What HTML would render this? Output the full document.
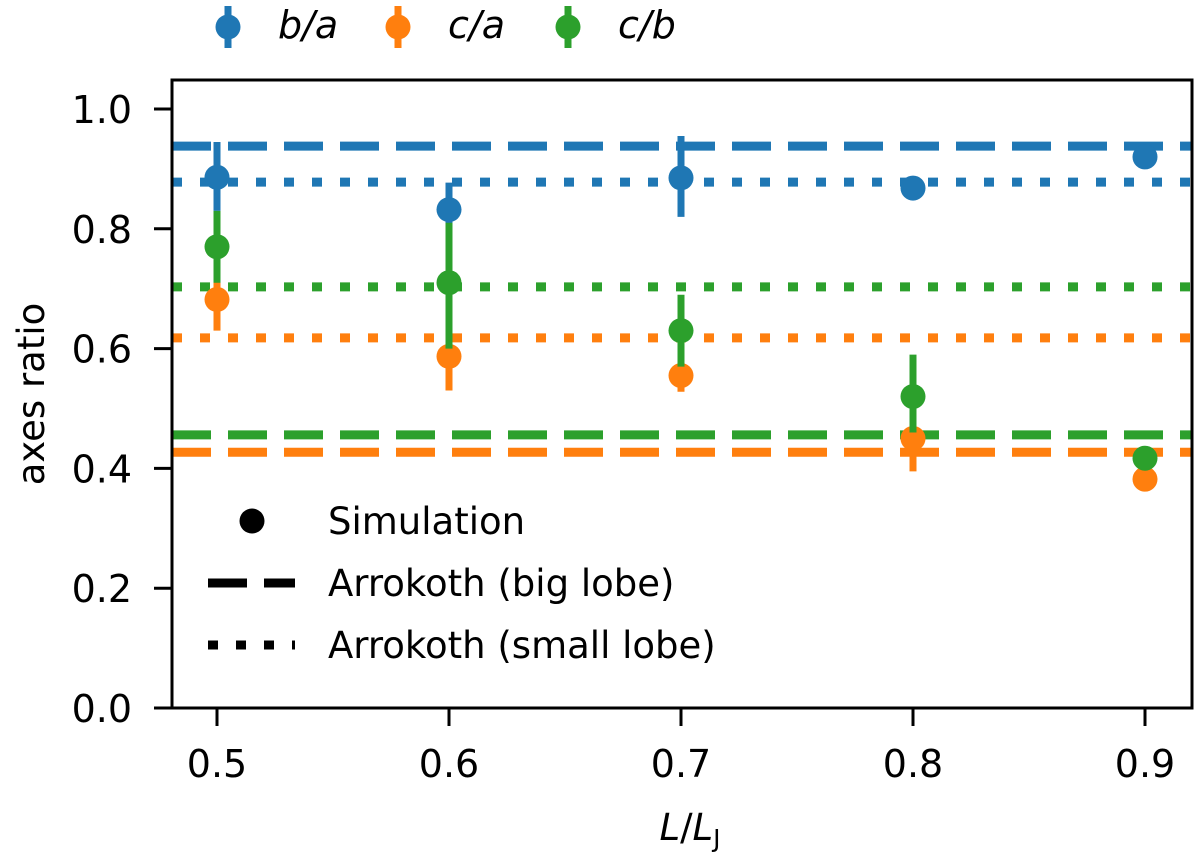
<!DOCTYPE html>
<html><head><meta charset="utf-8"><style>body{margin:0;background:#fff}svg{display:block;font-family:"DejaVu Sans","Liberation Sans",sans-serif}</style></head>
<body>
<svg id="chart" width="1200" height="855"></svg>
<script>
const xCats=[0.5,0.6,0.7,0.8,0.9];
const baVal=[0.886,0.832,0.885,0.868,0.920];
const baLo=[0.830,0.785,0.820,0.860,0.905];
const baHi=[0.945,0.877,0.955,0.876,0.935];
const caVal=[0.682,0.587,0.555,0.450,0.382];
const caLo=[0.630,0.530,0.528,0.395,0.375];
const caHi=[0.730,0.640,0.582,0.490,0.390];
const cbVal=[0.770,0.710,0.630,0.520,0.417];
const cbLo=[0.710,0.600,0.570,0.460,0.408];
const cbHi=[0.830,0.810,0.690,0.590,0.426];
const refBig=[0.938,0.427,0.456];
const refSmall=[0.878,0.618,0.703];
const yTicks=[0.0,0.2,0.4,0.6,0.8,1.0];
const xTicks=[0.5,0.6,0.7,0.8,0.9];
const colors=['#1f77b4','#ff7f0e','#2ca02c'];
const NS='http://www.w3.org/2000/svg';
const svg=document.getElementById('chart');
const L=172,R=1192,T=80,B=708;
const xs=v=>217+(v-0.5)*2320;
const ys=v=>708-v*599;
function mk(tag,at,txt){const e=document.createElementNS(NS,tag);for(const k in at)e.setAttribute(k,at[k]);if(txt!=null)e.textContent=txt;svg.appendChild(e);return e;}
[refBig,refSmall].forEach((arr,j)=>{arr.forEach((v,i)=>{
 const l=mk('line',{x1:L,x2:R,y1:ys(v),y2:ys(v),stroke:colors[i],'stroke-width':9,'stroke-dasharray':j==0?'39 17':'10 18'});
 
 
});});
[[baVal,baLo,baHi],[caVal,caLo,caHi],[cbVal,cbLo,cbHi]].forEach((s,i)=>{
 xCats.forEach((x,k)=>{
  const e=mk('line',{x1:xs(x),x2:xs(x),y1:ys(s[1][k]),y2:ys(s[2][k]),stroke:colors[i],'stroke-width':7});
  
  
  const c=mk('circle',{cx:xs(x),cy:ys(s[0][k]),r:12.5,fill:colors[i]});
  
  
 });
});
const f=mk('rect',{x:L,y:T,width:R-L,height:B-T,fill:'none',stroke:'#000','stroke-width':3});


yTicks.forEach(v=>{
 mk('line',{x1:L-18,x2:L,y1:ys(v),y2:ys(v),stroke:'#000','stroke-width':3});
 const t=mk('text',{x:L-40,y:ys(v)+14,'text-anchor':'end','font-size':38},v.toFixed(1));
 
 
});
xTicks.forEach(v=>{
 mk('line',{x1:xs(v),x2:xs(v),y1:B,y2:B+18,stroke:'#000','stroke-width':3});
 const t=mk('text',{x:xs(v),y:B+69,'text-anchor':'middle','font-size':38},v.toFixed(1));
 
 
});
</script>
<svg width="1200" height="855" style="position:absolute;left:0;top:0">
<text x="44" y="394" font-size="37" text-anchor="middle" transform="rotate(-90 44 394)">axes ratio</text>
<text x="690" y="840" font-size="37" text-anchor="middle"><tspan font-style="italic">L</tspan>/<tspan font-style="italic">L</tspan><tspan font-size="25" dy="7">J</tspan></text>
<g>
<line x1="228" x2="228" y1="6" y2="48" stroke="#1f77b4" stroke-width="7"/><circle cx="228" cy="27" r="12.5" fill="#1f77b4"/>
<text x="278" y="38" font-size="38" font-style="italic">b/a</text>
<line x1="398" x2="398" y1="6" y2="48" stroke="#ff7f0e" stroke-width="7"/><circle cx="398" cy="27" r="12.5" fill="#ff7f0e"/>
<text x="448" y="38" font-size="38" font-style="italic">c/a</text>
<line x1="568" x2="568" y1="6" y2="48" stroke="#2ca02c" stroke-width="7"/><circle cx="568" cy="27" r="12.5" fill="#2ca02c"/>
<text x="618" y="38" font-size="38" font-style="italic">c/b</text>
</g>
<g>
<circle cx="252" cy="521" r="12.5" fill="#000"/>
<text x="328" y="534" font-size="37">Simulation</text>
<line x1="208" x2="295" y1="583" y2="583" stroke="#000" stroke-width="9" stroke-dasharray="39 17"/>
<text x="328" y="596" font-size="37">Arrokoth (big lobe)</text>
<line x1="208" x2="295" y1="645" y2="645" stroke="#000" stroke-width="9" stroke-dasharray="10 18"/>
<text x="328" y="658" font-size="37">Arrokoth (small lobe)</text>
</g>
</svg>
</body></html>
